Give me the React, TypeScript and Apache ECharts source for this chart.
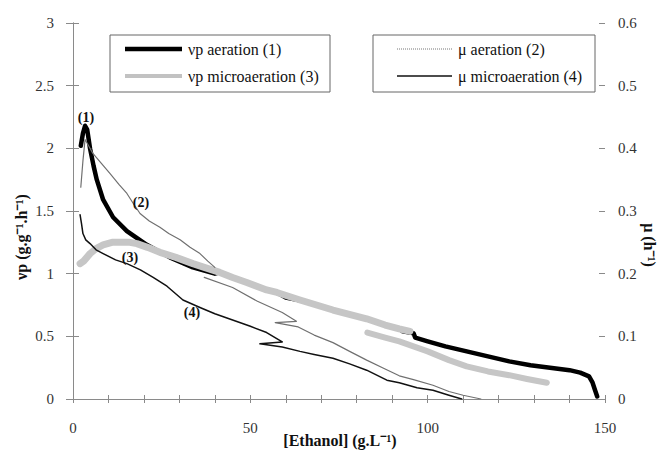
import React, { useEffect, useRef } from 'react';
import * as echarts from 'echarts';

const FONT = 'serif';

// Axis ranges / tick labels
const xLabelValues = [0, 50, 100, 150];
const leftTickValues = [0, 0.5, 1, 1.5, 2, 2.5, 3];
const rightTickValues = [0, 0.1, 0.2, 0.3, 0.4, 0.5, 0.6];

// Series names
const seriesNames = [
  'νp aeration (1)',
  'μ aeration (2)',
  'νp microaeration (3)',
  'μ microaeration (4)',
];

// (1) νp aeration  [Ethanol g/L, νp g/g/h]
const vpAeration: [number, number][] = [
  [2.2, 2.02], [2.8, 2.12], [3.4, 2.18], [4.0, 2.15], [4.8, 2.0], [5.8, 1.86],
  [6.7, 1.75], [8.5, 1.59], [11.3, 1.45], [15.2, 1.34], [20.8, 1.23], [27.3, 1.13],
  [33.8, 1.05], [40, 1.0], [41.4, 1.01], [45, 0.97], [49, 0.93], [54.6, 0.87],
  [57.5, 0.85], [60, 0.81], [63.5, 0.79], [64, 0.79], [73.3, 0.71], [82.8, 0.64],
  [88, 0.59], [92, 0.56], [93, 0.54], [96, 0.525], [96.5, 0.49], [100, 0.46],
  [105, 0.42], [111, 0.38], [117, 0.34], [123, 0.30], [129, 0.27], [134.5, 0.25],
  [140, 0.23], [143, 0.21], [145.5, 0.18], [146.5, 0.13], [147.2, 0.07], [147.8, 0.02],
];

// (3) νp microaeration, first and second run
const vpMicroA: [number, number][] = [
  [2, 1.08], [3, 1.10], [4.8, 1.16], [6.5, 1.20], [8.5, 1.23], [11, 1.25],
  [13.2, 1.25], [16, 1.25], [18, 1.24], [21, 1.21], [24.5, 1.17], [29, 1.13],
  [33.8, 1.08], [37, 1.05], [41.4, 1.01], [45, 0.97], [49, 0.93], [54.6, 0.87],
  [57.5, 0.85], [64, 0.79], [73.3, 0.71], [82.8, 0.64], [88, 0.59], [92, 0.56],
  [95, 0.54],
];
const vpMicroB: [number, number][] = [
  [83, 0.53], [88, 0.49], [92, 0.46], [100, 0.38], [106, 0.31], [111, 0.26],
  [117, 0.22], [123, 0.19], [128, 0.16], [133.6, 0.13],
];

// (2) μ aeration (h-1), two pieces
const muAerationA: [number, number][] = [
  [2.2, 0.338], [2.8, 0.38], [3.4, 0.414], [4.2, 0.406], [5.6, 0.392], [8, 0.376],
  [10.4, 0.36], [13, 0.342], [15.2, 0.328], [17, 0.312], [18.9, 0.296], [21.5, 0.284],
  [24.5, 0.274], [27, 0.264], [30.2, 0.254], [33, 0.242], [35.8, 0.232], [38, 0.22],
  [40, 0.21],
];
const muAerationB: [number, number][] = [
  [37, 0.194], [45, 0.178], [52, 0.156], [59, 0.138], [63, 0.124], [57, 0.122],
  [63.5, 0.115], [68, 0.102], [73.3, 0.09], [78, 0.076], [82.8, 0.062], [88, 0.048],
  [92, 0.037], [96, 0.031], [101.5, 0.022], [106, 0.012], [110, 0.006], [115, 0.0],
];

// (4) μ microaeration (h-1)
const muMicro: [number, number][] = [
  [2, 0.294], [2.4, 0.28], [2.8, 0.264], [3.6, 0.254], [4.8, 0.248], [6.5, 0.238],
  [8.5, 0.232], [12, 0.222], [15.2, 0.216], [19, 0.206], [22.6, 0.194], [26.5, 0.18],
  [31, 0.158], [35.8, 0.146], [40, 0.136], [45, 0.126], [50, 0.116], [54.6, 0.106],
  [59, 0.091], [52.7, 0.088], [59, 0.083], [64, 0.076], [68, 0.071], [73.3, 0.065],
  [78, 0.056], [82.8, 0.046], [88.5, 0.03], [92, 0.026], [97, 0.018], [101.5, 0.014],
  [106, 0.006], [109.6, 0.0],
];

// Curve annotations
const curveTags = ['(1)', '(2)', '(3)', '(4)'];

export default function App() {
  const ref = useRef<HTMLDivElement>(null);

  useEffect(() => {
    if (!ref.current) return;
    const chart = echarts.init(ref.current, undefined, { renderer: 'svg' });

    const axisGrey = '#8a8a8a';
    const labelStyle = { color: '#333', fontFamily: FONT, fontSize: 15 };

    const line = (name: string, data: [number, number][], yAxisIndex: number, color: string, width: number, z: number) => ({
      type: 'line',
      name,
      data,
      xAxisIndex: 0,
      yAxisIndex,
      symbol: 'none',
      showSymbol: false,
      silent: true,
      z,
      lineStyle: { color, width, join: 'round', cap: 'round' },
    });

    const text = (x: number, y: number, t: string, extra: any = {}) => ({
      type: 'text',
      x,
      y,
      z: 100,
      style: {
        text: t,
        fontFamily: FONT,
        fontSize: 16,
        fill: '#111',
        align: 'left',
        verticalAlign: 'middle',
        ...extra,
      },
    });

    chart.setOption({
      animation: false,
      backgroundColor: '#fff',
      textStyle: { fontFamily: FONT },
      grid: { left: 73, right: 58, top: 23, bottom: 51, containLabel: false },
      xAxis: [
        {
          type: 'value', min: 0, max: 150, interval: 10, position: 'bottom',
          axisLine: { show: true, lineStyle: { color: axisGrey, width: 1 } },
          axisTick: { show: true, length: 4, lineStyle: { color: axisGrey } },
          splitLine: { show: false },
          axisLabel: {
            ...labelStyle, margin: 21,
            formatter: (v: number) => (xLabelValues.includes(v) ? String(v) : ''),
          },
        },
        {
          type: 'value', min: 0, max: 150, interval: 10, position: 'bottom',
          axisLine: { show: false },
          axisTick: { show: true, inside: true, length: 4, lineStyle: { color: axisGrey } },
          splitLine: { show: false },
          axisLabel: { show: false },
        },
      ],
      yAxis: [
        {
          type: 'value', min: 0, max: 3, interval: 0.5, position: 'left',
          axisLine: { show: true, lineStyle: { color: axisGrey, width: 1 } },
          axisTick: { show: true, length: 7, lineStyle: { color: axisGrey } },
          splitLine: { show: false },
          axisLabel: {
            ...labelStyle, margin: 19,
            formatter: (v: number) => {
              const m = leftTickValues.find((t) => Math.abs(t - v) < 1e-9);
              return m === undefined ? '' : String(m);
            },
          },
        },
        {
          type: 'value', min: 0, max: 0.6, interval: 0.1, position: 'right',
          axisLine: { show: true, lineStyle: { color: axisGrey, width: 1 } },
          axisTick: { show: true, length: 6, lineStyle: { color: axisGrey } },
          splitLine: { show: false },
          axisLabel: {
            ...labelStyle, margin: 13, align: 'left',
            formatter: (v: number) => {
              const m = rightTickValues.find((t) => Math.abs(t - v) < 1e-9);
              return m === undefined ? '' : String(m);
            },
          },
        },
        {
          type: 'value', min: 0, max: 0.6, interval: 0.1, position: 'right',
          axisLine: { show: false },
          axisTick: { show: true, inside: true, length: 6, lineStyle: { color: axisGrey } },
          splitLine: { show: false },
          axisLabel: { show: false },
        },
      ],
      series: [
        line(seriesNames[0], vpAeration, 0, '#000', 4.5, 2),
        line(seriesNames[2], vpMicroA, 0, '#c6c6c6', 7, 3),
        line(seriesNames[2], vpMicroB, 0, '#c6c6c6', 6, 3),
        line(seriesNames[1], muAerationA, 1, '#707070', 1.2, 4),
        line(seriesNames[1], muAerationB, 1, '#707070', 1.2, 4),
        line(seriesNames[3], muMicro, 1, '#111', 1.5, 5),
      ],
      graphic: [
        // legend box 1
        { type: 'rect', z: 90, shape: { x: 110, y: 35, width: 220, height: 57 }, style: { fill: '#fff', stroke: '#666', lineWidth: 1 } },
        { type: 'line', z: 95, shape: { x1: 125, y1: 49, x2: 182, y2: 49 }, style: { stroke: '#000', lineWidth: 4.5 } },
        text(188, 49, seriesNames[0]),
        { type: 'line', z: 95, shape: { x1: 125, y1: 76, x2: 182, y2: 76 }, style: { stroke: '#c2c2c2', lineWidth: 4 } },
        text(188, 76, seriesNames[2]),
        // legend box 2
        { type: 'rect', z: 90, shape: { x: 373, y: 35, width: 222, height: 57 }, style: { fill: '#fff', stroke: '#666', lineWidth: 1 } },
        { type: 'line', z: 95, shape: { x1: 397, y1: 49, x2: 452, y2: 49 }, style: { stroke: '#777', lineWidth: 1, lineDash: [1, 1] } },
        text(458, 49, seriesNames[1]),
        { type: 'line', z: 95, shape: { x1: 397, y1: 76, x2: 452, y2: 76 }, style: { stroke: '#111', lineWidth: 1.5 } },
        text(458, 76, seriesNames[3]),
        // curve tags
        text(86, 117, curveTags[0], { fontSize: 14, fontWeight: 'bold', align: 'center' }),
        text(141, 202, curveTags[1], { fontSize: 14, fontWeight: 'bold', align: 'center' }),
        text(130, 257, curveTags[2], { fontSize: 14, fontWeight: 'bold', align: 'center' }),
        text(192, 312, curveTags[3], { fontSize: 14, fontWeight: 'bold', align: 'center' }),
        // axis titles
        text(340, 440, '[Ethanol] (g.L⁻¹)', { fontSize: 16, fontWeight: 'bold', align: 'center' }),
        { ...text(21, 237, 'νp (g.g⁻¹.h⁻¹)', { fontSize: 16, fontWeight: 'bold', align: 'center' }), rotation: Math.PI / 2 },
        { ...text(649, 245, 'μ (h⁻¹)', { fontSize: 16, fontWeight: 'bold', align: 'center' }), rotation: -Math.PI / 2 },
      ],
    });

    return () => chart.dispose();
  }, []);

  return (
    <div
      ref={ref}
      style={{ position: 'absolute', left: 0, top: 0, width: 663, height: 450 }}
    />
  );
}
